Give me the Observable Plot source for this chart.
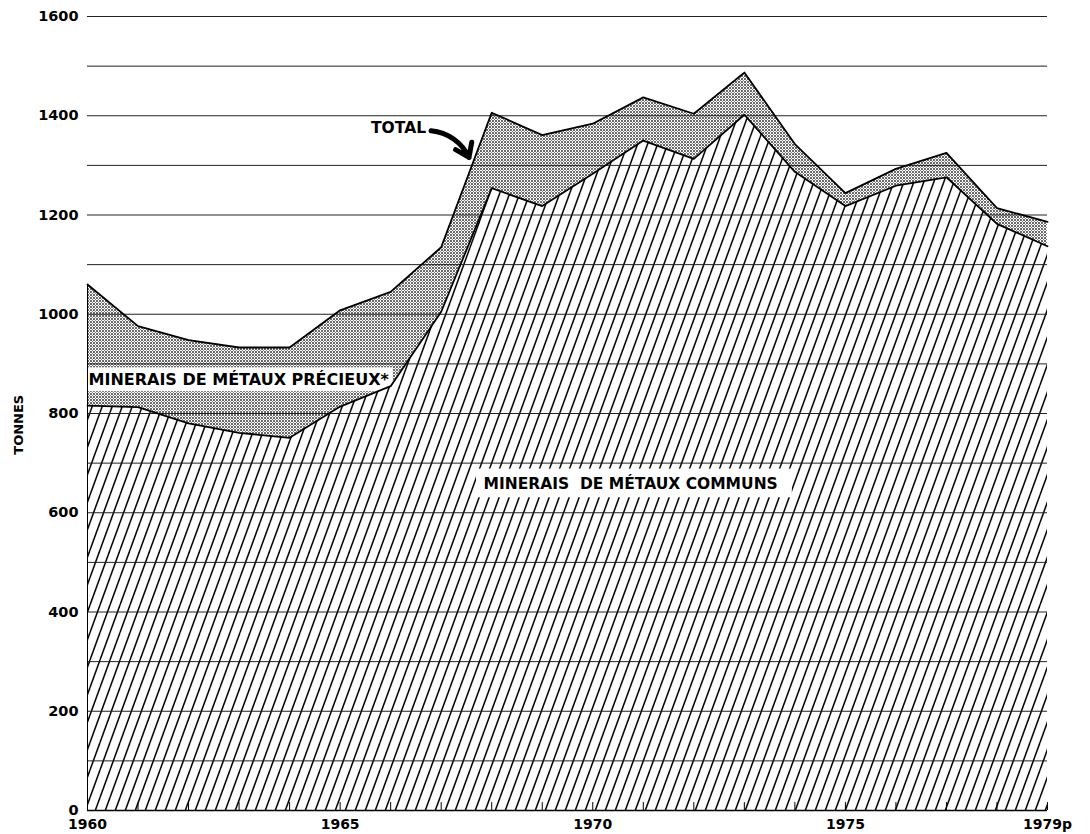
<!DOCTYPE html>
<html>
<head>
<meta charset="utf-8">
<script src="https://cdn.jsdelivr.net/npm/d3@7"></script>
<script src="https://cdn.jsdelivr.net/npm/@observablehq/plot@0.6"></script>
<style>
  html, body { margin: 0; padding: 0; background: #fff; }
  #chart svg { display: block; }
</style>
</head>
<body>
<div id="chart"></div>
<script>
// ---- data (tonnes) ----
const years = [1960, 1961, 1962, 1963, 1964, 1965, 1966, 1967, 1968, 1969,
               1970, 1971, 1972, 1973, 1974, 1975, 1976, 1977, 1978, 1979];
const total = [1060, 976, 948, 933, 933, 1008, 1045, 1135, 1406, 1361,
               1384, 1437, 1404, 1487, 1343, 1244, 1293, 1325, 1214, 1186];
const baseMetals = [816, 813, 780, 761, 751, 814, 855, 1005, 1254, 1218,
                    1283, 1350, 1313, 1402, 1287, 1218, 1259, 1276, 1182, 1137];

const yTicks = [0, 200, 400, 600, 800, 1000, 1200, 1400, 1600];
const xTicks = [1960, 1965, 1970, 1975, 1979];
const xTickLabels = ["1960", "1965", "1970", "1975", "1979p"];
const gridValues = d3.range(100, 1601, 100);

const labelPrecious = "MINERAIS DE MÉTAUX PRÉCIEUX*";
const labelCommon = "MINERAIS  DE MÉTAUX COMMUNS";
const labelTotal = "TOTAL";
const axisTitle = "TONNES";

const data = years.map((year, i) => ({year, total: total[i], base: baseMetals[i]}));

const W = 1090, H = 834;

const plot = Plot.plot({
  width: W,
  height: H,
  marginLeft: 87,
  marginRight: 43,
  marginTop: 16,
  marginBottom: 24,
  style: { fontFamily: "'DejaVu Sans', sans-serif", background: "#fff", color: "#000" },
  x: { domain: [1960, 1979] },
  y: { domain: [0, 1600] },
  marks: [
    // precious metal ores band (between base metals and total)
    Plot.areaY(data, { x: "year", y1: "base", y2: "total", fill: "url(#stipple)", curve: "linear" }),
    // white band behind the precious-metals label
    Plot.rect([{x1: 1960, x2: 1966.05, y1: 844, y2: 892}], { x1: "x1", x2: "x2", y1: "y1", y2: "y2", fill: "#fff" }),
    // base metal ores
    Plot.areaY(data, { x: "year", y1: 0, y2: "base", fill: "url(#hatch)", curve: "linear" }),
    // white band behind the base-metals label
    Plot.rect([{x1: 1967.7, x2: 1973.95, y1: 630, y2: 688}], { x1: "x1", x2: "x2", y1: "y1", y2: "y2", fill: "#fff" }),
    // grid lines
    Plot.ruleY(gridValues, { stroke: "#222", strokeWidth: 1 }),
    // outlines
    Plot.lineY(data, { x: "year", y: "total", stroke: "#000", strokeWidth: 1.8 }),
    Plot.lineY(data, { x: "year", y: "base", stroke: "#000", strokeWidth: 1.8 }),
    Plot.ruleX([1960], { y1: 0, y2: total[0], stroke: "#000", strokeWidth: 1 }),
    // baseline + year ticks
    Plot.ruleY([0], { stroke: "#000", strokeWidth: 1.6 }),
    Plot.ruleX(years, { y1: 0, y2: 16, stroke: "#000", strokeWidth: 1 }),
    // axes
    Plot.axisY(yTicks, { tickSize: 0, tickPadding: 9, fontSize: 14.5, fontWeight: "bold", label: null, tickFormat: d => String(d) }),
    Plot.axisX(xTicks, { tickSize: 0, tickPadding: 9, fontSize: 14, fontWeight: "bold", label: null,
                         tickFormat: d => xTickLabels[xTicks.indexOf(d)] }),
    Plot.text([axisTitle], { frameAnchor: "left", y: [717], dx: -69, rotate: -90, fontSize: 13, fontWeight: "bold", text: d => d }),
    // labels
    Plot.text([labelPrecious], { x: [1960], y: [868], textAnchor: "start", dx: 1, fontSize: 16, fontWeight: "bold", text: d => d }),
    Plot.text([labelCommon], { x: [1970.75], y: [658], textAnchor: "middle", fontSize: 15.5, fontWeight: "bold", text: d => d }),
    Plot.text([labelTotal], { x: [1966.7], y: [1376], textAnchor: "end", fontSize: 15.5, fontWeight: "bold", text: d => d }),
    Plot.arrow([{x1: 1966.8, y1: 1370, x2: 1967.55, y2: 1316}], {
      x1: "x1", y1: "y1", x2: "x2", y2: "y2", bend: 30, stroke: "#000", strokeWidth: 5, headLength: 12, headAngle: 70, insetStart: 0, insetEnd: 0
    })
  ]
});

// patterns
const svg = d3.select(plot);
const defs = svg.insert("defs", ":first-child");
const hw = 10, hh = 27.5; // "/" hatch leaning right, ~70 degrees
const hatch = defs.append("pattern")
  .attr("id", "hatch")
  .attr("patternUnits", "userSpaceOnUse")
  .attr("width", hw)
  .attr("height", hh);
hatch.append("rect").attr("width", hw).attr("height", hh).attr("fill", "#fff");
[[-hw, 0], [0, 0], [hw, 0]].forEach(([ox, oy]) => {
  hatch.append("line")
    .attr("x1", ox).attr("y1", hh + oy)
    .attr("x2", ox + hw).attr("y2", oy)
    .attr("stroke", "#000").attr("stroke-width", 1.5);
});

const stipple = defs.append("pattern")
  .attr("id", "stipple")
  .attr("patternUnits", "userSpaceOnUse")
  .attr("width", 3)
  .attr("height", 3);
stipple.append("rect").attr("width", 3).attr("height", 3).attr("fill", "#fff");
stipple.append("circle").attr("cx", 1).attr("cy", 1).attr("r", 0.95).attr("fill", "#2a2a2a");
stipple.append("circle").attr("cx", 2.5).attr("cy", 2.5).attr("r", 0.55).attr("fill", "#666");

document.getElementById("chart").appendChild(plot);
</script>
</body>
</html>
